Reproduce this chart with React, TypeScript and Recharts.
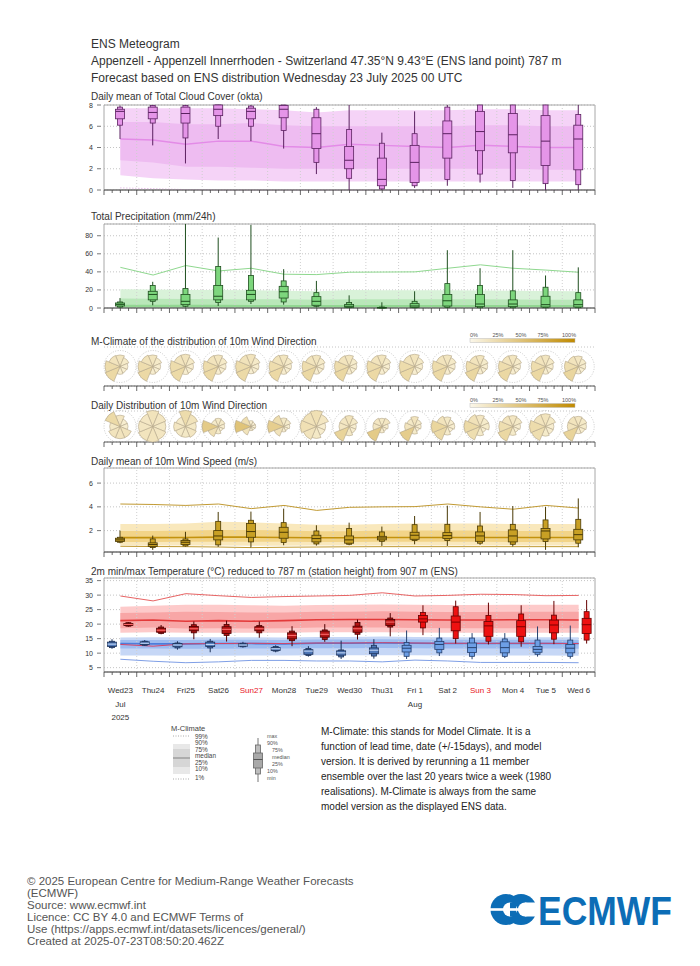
import React from 'react';
import {
  ComposedChart,
  Bar,
  Area,
  Line,
  XAxis,
  YAxis,
  CartesianGrid,
  ReferenceLine,
  ReferenceArea,
  Sector,
} from 'recharts';

const FONT = '"Liberation Sans", Arial, Helvetica, sans-serif';

// ---------------- categories / tick labels ----------------
const dayLabels = ['Wed23', 'Thu24', 'Fri25', 'Sat26', 'Sun27', 'Mon28', 'Tue29', 'Wed30', 'Thu31', 'Fri 1', 'Sat 2', 'Sun 3', 'Mon 4', 'Tue 5', 'Wed 6'];
const sundayLabels = ['Sun27', 'Sun 3'];
const monthLabels = ['Jul', '', '', '', '', '', '', '', '', 'Aug', '', '', '', '', ''];
const yearLabels = ['2025', '', '', '', '', '', '', '', '', '', '', '', '', '', ''];

const cloudTicks = [0, 2, 4, 6, 8];
const precipTicks = [0, 20, 40, 60, 80];
const windTicks = [2, 4, 6];
const tempTicks = [5, 10, 15, 20, 25, 30, 35];
const roseGridTicks = [0.33, 0.67];
const pctLabels = ['0%', '25%', '50%', '75%', '100%'];
const climLegendLabels = ['99%', '90%', '75%', 'median', '25%', '10%', '1%'];
const boxLegendLabels = ['max', '90%', '75%', 'median', '25%', '10%', 'min'];

// ---------------- ensemble stats per day: [min, p10, p25, median, p75, p90, max] ----------------
const cloudBoxes = [
  [4.8, 6.1, 6.7, 7.4, 7.6, 7.8, 7.95],
  [4.2, 6.3, 6.7, 7.3, 7.8, 7.95, 8],
  [2.5, 4.9, 6.3, 7.2, 7.8, 7.95, 8],
  [4.8, 6.0, 7.0, 7.6, 8, 8, 8],
  [4.6, 6.0, 6.7, 7.4, 7.7, 7.9, 8],
  [3.9, 5.6, 6.8, 7.6, 7.95, 8, 8],
  [1.5, 2.6, 3.9, 5.3, 6.8, 7.6, 7.8],
  [0, 1.1, 2.0, 2.8, 4.1, 5.7, 8],
  [0, 0.1, 0.4, 1.0, 3.0, 4.4, 5.4],
  [0.2, 0.4, 0.7, 2.6, 4.2, 5.3, 7.4],
  [0.4, 1.0, 3.0, 5.3, 6.5, 7.8, 8],
  [0.7, 1.5, 3.7, 5.5, 7.4, 8, 8],
  [0.2, 0.9, 3.5, 5.2, 7.2, 8, 8],
  [0, 0.6, 2.3, 4.6, 7.0, 8, 8],
  [0, 0.5, 1.9, 4.8, 6.1, 7.1, 8],
];

const precipBoxes = [
  [0.4, 1, 2.2, 4, 5.6, 6.7, 11],
  [3, 7.4, 9, 15, 18.5, 25, 29],
  [0.7, 1.9, 3.7, 7.4, 15, 21.5, 93],
  [2.2, 6, 9, 13, 25, 46, 78],
  [4.4, 7.4, 9, 15, 19.6, 36, 92],
  [3.7, 6.7, 11, 18, 24, 30, 43],
  [0.7, 1.9, 3, 7.4, 12.6, 17, 30],
  [0, 0.4, 0.7, 1.9, 4, 6, 14],
  [0, 0, 0.1, 0.3, 0.6, 1.1, 6.3],
  [0, 0.3, 0.7, 2.2, 4.8, 7.4, 18.5],
  [0, 0.7, 2.2, 8, 15, 27, 64],
  [0, 0.3, 1.5, 4.4, 15, 25, 44],
  [0, 0.3, 1.5, 4.4, 9, 19, 64],
  [0, 0.3, 1.1, 3.7, 13, 23, 36],
  [0, 0.3, 1.1, 3.7, 9, 17, 45],
];

const windBoxes = [
  [0.94, 1.02, 1.08, 1.22, 1.36, 1.44, 2.0],
  [0.38, 0.57, 0.66, 0.83, 0.97, 1.3, 1.58],
  [0.66, 0.71, 0.83, 1.02, 1.16, 1.3, 1.9],
  [0.63, 0.8, 1.22, 1.55, 2.0, 2.78, 3.57],
  [0.57, 1.05, 1.44, 1.92, 2.6, 2.87, 3.6],
  [0.77, 1.0, 1.36, 1.86, 2.28, 2.67, 3.85],
  [0.74, 0.88, 1.05, 1.33, 1.61, 1.97, 2.45],
  [0.77, 0.85, 0.94, 1.22, 1.55, 2.17, 2.67],
  [0.71, 1.1, 1.22, 1.38, 1.52, 1.89, 2.34],
  [0.85, 1.16, 1.27, 1.61, 1.86, 2.5, 3.23],
  [0.71, 1.16, 1.33, 1.58, 1.83, 2.53, 4.1],
  [0.8, 0.94, 1.1, 1.55, 1.89, 2.39, 3.57],
  [0.66, 0.85, 1.05, 1.55, 2.06, 2.53, 4.07],
  [0.38, 1.08, 1.3, 1.97, 2.17, 2.9, 3.99],
  [0.6, 0.94, 1.22, 1.66, 2.11, 2.95, 4.71],
];

const tminBoxes = [
  [11.5, 11.9, 12.3, 13.1, 13.8, 14.1, 14.8],
  [12.5, 12.7, 13.0, 13.4, 13.9, 14.1, 14.5],
  [11.2, 11.8, 12.2, 12.8, 13.3, 13.5, 14.1],
  [10.3, 11.8, 12.3, 13.0, 13.8, 14.1, 14.9],
  [11.9, 12.2, 12.4, 12.8, 13.2, 13.4, 13.9],
  [10.3, 10.7, 10.9, 11.5, 11.9, 12.3, 12.7],
  [8.8, 9.2, 9.6, 10.7, 11.2, 11.6, 12.4],
  [8.0, 8.7, 9.3, 10.1, 10.8, 11.1, 14.3],
  [8.1, 9.0, 9.8, 11.0, 11.8, 12.7, 14.8],
  [8.0, 8.9, 10.4, 11.7, 12.7, 13.7, 17.8],
  [9.0, 10.1, 11.3, 13.0, 14.0, 15.2, 18.7],
  [7.9, 8.9, 10.2, 11.9, 13.5, 15.2, 16.9],
  [8.3, 8.9, 10.1, 11.9, 13.9, 14.9, 16.9],
  [8.8, 9.6, 10.3, 11.3, 12.3, 14.5, 19.2],
  [8.1, 8.9, 10.1, 11.7, 13.0, 14.5, 19.5],
];

const tmaxBoxes = [
  [19.1, 19.3, 19.5, 19.9, 20.2, 20.5, 20.7],
  [16.5, 16.8, 17.2, 17.9, 18.6, 19.0, 19.7],
  [14.8, 17.0, 17.7, 18.4, 19.2, 19.8, 20.9],
  [14.0, 16.1, 16.8, 18.2, 19.1, 19.9, 21.2],
  [15.3, 17.0, 17.7, 18.4, 19.1, 19.5, 20.9],
  [12.4, 14.3, 14.9, 16.1, 17.0, 17.6, 19.3],
  [13.9, 14.7, 15.5, 16.5, 17.6, 18.0, 20.0],
  [14.7, 16.5, 17.2, 18.4, 19.3, 20.6, 21.6],
  [15.8, 19.0, 19.5, 20.7, 21.6, 22.1, 23.8],
  [16.2, 18.7, 20.7, 21.8, 23.0, 24.0, 26.5],
  [13.3, 15.0, 17.7, 20.7, 22.8, 26.0, 28.1],
  [13.0, 14.1, 15.8, 19.4, 20.9, 23.0, 27.4],
  [12.2, 13.9, 15.8, 19.1, 21.2, 23.5, 26.5],
  [13.1, 14.8, 17.0, 19.7, 21.4, 23.1, 28.0],
  [13.3, 14.5, 16.8, 19.8, 22.0, 24.3, 28.3],
];

// ---------------- M-Climate per day: [p1, p10, p25, median, p75, p90, p99] ----------------
const cloudClim = [
  [0.2, 1.4, 2.8, 4.8, 6.4, 7.7, 8],
  [0.12, 1.1, 2.6, 4.7, 6.4, 7.7, 8],
  [0.04, 1.0, 2.2, 4.3, 6.2, 7.7, 8],
  [0, 0.9, 2.2, 4.6, 6.2, 7.7, 8],
  [0, 0.9, 2.1, 4.6, 6.3, 7.6, 8],
  [0, 0.8, 2.0, 4.1, 6.1, 7.5, 8],
  [0, 0.8, 2.0, 4.0, 6.0, 7.3, 8],
  [0, 0.8, 2.0, 4.3, 6.0, 7.5, 8],
  [0, 0.8, 2.0, 4.2, 6.0, 7.5, 8],
  [0, 0.8, 2.0, 4.1, 6.0, 7.5, 8],
  [0, 0.8, 2.0, 4.0, 6.0, 7.5, 8],
  [0, 0.8, 2.0, 4.2, 6.1, 7.6, 8],
  [0, 0.8, 2.0, 4.1, 6.1, 7.6, 8],
  [0, 0.8, 1.9, 4.0, 6.0, 7.5, 8],
  [0, 0.8, 1.9, 4.0, 6.0, 7.5, 8],
];

const precipClim = [
  [0, 0, 0, 3.7, 10.4, 20.7, 45],
  [0, 0, 0, 3.6, 10.2, 20.4, 36.5],
  [0, 0, 0, 3.5, 10.0, 20.0, 47],
  [0, 0, 0, 3.5, 9.8, 19.8, 41],
  [0, 0, 0, 3.4, 9.8, 19.6, 44],
  [0, 0, 0, 3.3, 9.6, 19.2, 37.4],
  [0, 0, 0, 3.2, 9.2, 18.5, 37],
  [0, 0, 0, 3.4, 9.8, 19.8, 39.6],
  [0, 0, 0, 3.4, 9.6, 19.6, 39.8],
  [0, 0, 0, 3.4, 9.6, 19.6, 40],
  [0, 0, 0, 3.4, 9.6, 19.6, 44],
  [0, 0, 0, 3.4, 9.6, 19.4, 47.8],
  [0, 0, 0, 3.3, 9.4, 19.2, 44],
  [0, 0, 0, 3.2, 9.2, 18.8, 42],
  [0, 0, 0, 3.2, 9.0, 18.5, 39.6],
];

const windClim = [
  [0.68, 0.75, 1.05, 1.41, 1.97, 2.56, 4.24],
  [0.66, 0.75, 1.05, 1.41, 1.97, 2.56, 4.2],
  [0.65, 0.75, 1.06, 1.42, 2.0, 2.6, 4.12],
  [0.62, 0.74, 1.07, 1.45, 2.05, 2.75, 4.24],
  [0.57, 0.72, 1.07, 1.45, 2.05, 2.7, 3.85],
  [0.6, 0.73, 1.06, 1.42, 2.0, 2.6, 4.12],
  [0.62, 0.74, 1.05, 1.4, 1.95, 2.5, 3.7],
  [0.64, 0.75, 1.05, 1.4, 1.95, 2.5, 3.96],
  [0.65, 0.75, 1.06, 1.42, 2.0, 2.55, 4.0],
  [0.65, 0.75, 1.06, 1.42, 2.0, 2.6, 4.02],
  [0.65, 0.75, 1.06, 1.42, 2.0, 2.6, 4.24],
  [0.65, 0.75, 1.06, 1.42, 2.0, 2.6, 4.0],
  [0.65, 0.75, 1.05, 1.42, 1.97, 2.55, 3.8],
  [0.65, 0.75, 1.05, 1.42, 1.97, 2.55, 4.12],
  [0.65, 0.75, 1.05, 1.42, 1.97, 2.55, 3.9],
];

const tmaxClim = [
  [13.0, 17.0, 18.6, 21.2, 23.8, 26.0, 29.7],
  [12.4, 17.2, 18.8, 21.4, 24.0, 26.3, 28.0],
  [13.2, 17.0, 18.5, 21.0, 24.3, 26.7, 30.5],
  [13.3, 17.0, 18.6, 21.2, 24.2, 26.7, 29.8],
  [13.4, 17.0, 18.5, 21.0, 24.0, 26.5, 29.2],
  [13.3, 17.0, 18.6, 21.2, 24.0, 26.3, 29.5],
  [13.5, 17.2, 18.8, 21.5, 24.3, 26.6, 29.7],
  [13.5, 17.2, 18.8, 21.6, 24.3, 26.7, 29.9],
  [13.6, 17.2, 18.8, 21.6, 24.4, 26.8, 30.8],
  [13.5, 17.1, 18.7, 21.5, 24.3, 26.7, 29.7],
  [13.4, 17.0, 18.6, 21.4, 24.2, 26.6, 29.9],
  [13.4, 17.0, 18.6, 21.4, 24.2, 26.6, 30.3],
  [13.4, 17.0, 18.6, 21.5, 24.3, 26.7, 30.2],
  [13.4, 17.0, 18.6, 21.5, 24.3, 26.7, 29.8],
  [13.3, 17.0, 18.6, 21.4, 24.3, 26.7, 29.9],
];

const tminClim = [
  [7.9, 9.2, 11.6, 13.3, 14.5, 15.4, 17.5],
  [7.2, 9.2, 11.6, 13.2, 14.5, 15.5, 17.5],
  [6.7, 9.1, 11.5, 13.2, 14.5, 15.5, 17.5],
  [7.0, 9.1, 11.5, 13.3, 14.6, 15.5, 17.6],
  [7.5, 9.2, 11.6, 13.3, 14.6, 15.5, 17.6],
  [7.5, 9.2, 11.6, 13.2, 14.5, 15.4, 17.5],
  [7.3, 9.3, 11.7, 13.4, 14.7, 15.6, 17.7],
  [7.3, 9.3, 11.7, 13.4, 14.7, 15.6, 17.7],
  [7.0, 9.3, 11.8, 13.5, 14.8, 15.7, 17.8],
  [7.6, 9.3, 11.7, 13.4, 14.7, 15.6, 17.7],
  [7.3, 9.2, 11.6, 13.3, 14.6, 15.5, 17.6],
  [6.8, 9.2, 11.6, 13.3, 14.6, 15.5, 17.6],
  [6.8, 9.2, 11.6, 13.3, 14.6, 15.5, 17.6],
  [6.8, 9.2, 11.6, 13.3, 14.6, 15.5, 17.6],
  [6.7, 9.1, 11.5, 13.3, 14.5, 15.5, 17.5],
];

// ---------------- wind direction frequencies (%) per day: [N, NE, E, SE, S, SW, W, NW] ----------------
const mclimRose = [
  [13, 9, 6, 5, 6, 25, 22, 14],
  [13, 9, 6, 5, 6, 25, 21, 15],
  [14, 9, 6, 5, 6, 24, 22, 14],
  [13, 9, 6, 5, 6, 25, 22, 14],
  [14, 9, 6, 5, 5, 24, 22, 15],
  [13, 9, 6, 5, 6, 25, 21, 15],
  [13, 9, 6, 5, 6, 26, 21, 14],
  [13, 8, 6, 5, 6, 26, 22, 14],
  [13, 9, 6, 5, 6, 25, 22, 14],
  [14, 9, 6, 5, 6, 24, 22, 14],
  [13, 9, 6, 5, 6, 25, 22, 14],
  [13, 8, 6, 5, 6, 27, 21, 14],
  [13, 9, 6, 5, 6, 26, 21, 14],
  [13, 9, 6, 5, 6, 26, 21, 14],
  [12, 8, 6, 5, 6, 28, 21, 14],
];

const dailyRose = [
  [12, 6, 6, 14, 14, 14, 10, 24],
  [15, 12, 10, 12, 14, 14, 12, 11],
  [22, 15, 10, 12, 10, 10, 12, 9],
  [10, 8, 6, 4, 8, 18, 38, 8],
  [6, 4, 4, 3, 3, 15, 45, 20],
  [10, 8, 5, 3, 4, 15, 35, 20],
  [18, 12, 6, 6, 10, 14, 18, 16],
  [14, 10, 6, 6, 10, 30, 12, 12],
  [10, 12, 6, 4, 6, 38, 12, 12],
  [14, 8, 6, 4, 8, 36, 14, 10],
  [10, 6, 6, 4, 8, 24, 28, 14],
  [12, 8, 8, 4, 8, 20, 24, 16],
  [12, 10, 6, 4, 8, 26, 20, 14],
  [14, 10, 6, 6, 8, 20, 22, 14],
  [12, 10, 8, 6, 6, 30, 14, 14],
];

const footerLines = [
  '© 2025 European Centre for Medium-Range Weather Forecasts',
  '(ECMWF)',
  'Source: www.ecmwf.int',
  'Licence: CC BY 4.0 and ECMWF Terms of',
  'Use (https://apps.ecmwf.int/datasets/licences/general/)',
  'Created at 2025-07-23T08:50:20.462Z',
];

const noteLines = [
  'M-Climate: this stands for Model Climate. It is a',
  'function of lead time, date (+/-15days), and model',
  'version. It is derived by rerunning a 11 member',
  'ensemble over the last 20 years twice a week (1980',
  'realisations). M-Climate is always from the same',
  'model version as the displayed ENS data.',
];

// ---------------- layout constants ----------------
const PAGE_W = 700;
const PLOT_LEFT = 104;
const PLOT_RIGHT = 595;
const YAXIS_W = 20;
const N_DAYS = dayLabels.length;
const quarterTicks = Array.from({ length: N_DAYS * 4 + 1 }, (_, i) => i / 4);
const dayBounds = Array.from({ length: N_DAYS - 1 }, (_, i) => i + 1);
const ROSE_R = 16;
const DARK_DAYS = 9;

// ---------------- chart data tables ----------------
const dailyTable = (boxes: number[][] | null, clim: number[][] | null, extra?: (i: number) => any) =>
  dayLabels.map((_, i) => {
    const row: any = { x: i + 0.5 };
    if (boxes) {
      row.range = [boxes[i][0], boxes[i][6]];
      row.stats = boxes[i];
    }
    if (clim) {
      const c = clim[i];
      row.p1 = c[0];
      row.b1090 = [c[1], c[5]];
      row.b2575 = [c[2], c[4]];
      row.p50 = c[3];
      row.b050 = [0, c[3]];
      row.p99 = c[6];
    }
    if (extra) Object.assign(row, extra(i));
    return row;
  });

const cloudData = dailyTable(cloudBoxes, cloudClim);
const precipData = dailyTable(precipBoxes, precipClim);
const windData = dailyTable(windBoxes, windClim);
const mclimRoseData = dailyTable(null, null, (i) => ({ range: [0, 1], freqs: mclimRose[i] }));
const dailyRoseData = dailyTable(null, null, (i) => ({ range: [0, 1], freqs: dailyRose[i] }));
const tempClimData = dayLabels.map((_, i) => ({
  x: i + 0.5,
  xb1090: [tmaxClim[i][1], tmaxClim[i][5]],
  xb2575: [tmaxClim[i][2], tmaxClim[i][4]],
  xp50: tmaxClim[i][3],
  xp1: tmaxClim[i][0],
  xp99: tmaxClim[i][6],
  nb1090: [tminClim[i][1], tminClim[i][5]],
  nb2575: [tminClim[i][2], tminClim[i][4]],
  np50: tminClim[i][3],
  np1: tminClim[i][0],
}));
const tempBoxData = dayLabels.flatMap((_, i) => [
  { x: i + 0.25, range: [tminBoxes[i][0], tminBoxes[i][6]], stats: tminBoxes[i], kind: 'min', day: i },
  { x: i + 0.75, range: [tmaxBoxes[i][0], tmaxBoxes[i][6]], stats: tmaxBoxes[i], kind: 'max', day: i },
]);

// ---------------- shapes & ticks ----------------
type BoxStyle = { fill: string; stroke: string; median: string };

const makeBoxShape = (styleOf: (p: any) => BoxStyle) => (props: any) => {
  const { x, y, width, height, payload } = props;
  if (!payload || !payload.stats || x == null || y == null) return <g />;
  const s: number[] = payload.stats;
  const lo = s[0];
  const hi = s[6];
  const top = Math.min(y, y + height);
  const bot = Math.max(y, y + height);
  const py = (v: number) => (hi === lo ? bot : bot - ((v - lo) / (hi - lo)) * (bot - top));
  const cx = x + width / 2;
  const st = styleOf(payload);
  const wO = 5;
  const wI = 9;
  return (
    <g>
      <line x1={cx} x2={cx} y1={py(hi)} y2={py(lo)} stroke={st.stroke} strokeWidth={1} />
      <rect x={cx - wO / 2} y={py(s[5])} width={wO} height={Math.max(0.6, py(s[1]) - py(s[5]))} fill={st.fill} stroke={st.stroke} strokeWidth={0.8} />
      <rect x={cx - wI / 2} y={py(s[4])} width={wI} height={Math.max(0.6, py(s[2]) - py(s[4]))} fill={st.fill} stroke={st.stroke} strokeWidth={0.8} />
      <line x1={cx - wI / 2} x2={cx + wI / 2} y1={py(s[3])} y2={py(s[3])} stroke={st.median} strokeWidth={1} />
    </g>
  );
};

const cloudShape = makeBoxShape(() => ({ fill: '#e595e8', stroke: '#5b2160', median: '#5b2160' }));
const precipShape = makeBoxShape(() => ({ fill: '#7dd67d', stroke: '#1f4f1f', median: '#1f4f1f' }));
const windShape = makeBoxShape(() => ({ fill: '#c8a024', stroke: '#4a3a05', median: '#4a3a05' }));
const tempShape = makeBoxShape((p) => {
  const early = p.day < DARK_DAYS;
  if (p.kind === 'max') {
    return early
      ? { fill: '#b31414', stroke: '#4d0000', median: '#ff7070' }
      : { fill: '#ee1111', stroke: '#660000', median: '#7a0000' };
  }
  return early
    ? { fill: '#4f78b8', stroke: '#1c3158', median: '#c8daf6' }
    : { fill: '#6d9fe6', stroke: '#26406e', median: '#26406e' };
});

const lerp = (a: number, b: number, t: number) => Math.round(a + (b - a) * t);
const roseColor = (pct: number) => {
  const t = Math.max(0, Math.min(1, pct / 100));
  return `rgb(${lerp(250, 192, t)},${lerp(243, 138, t)},${lerp(220, 0, t)})`;
};

const roseShape = (props: any) => {
  const { x, y, width, height, payload } = props;
  if (!payload || !payload.freqs || x == null || y == null) return <g />;
  const cx = x + width / 2;
  const cy = Math.min(y, y + height) + Math.abs(height) / 2;
  const f: number[] = payload.freqs;
  const mx = Math.max(...f);
  return (
    <g>
      <circle cx={cx} cy={cy} r={ROSE_R} fill="none" stroke="#aaa" strokeWidth={0.6} strokeDasharray="1 1.5" />
      {f.map((v, k) => {
        const angle = 90 - k * 45;
        return (
          <Sector
            key={k}
            cx={cx}
            cy={cy}
            innerRadius={0}
            outerRadius={ROSE_R * Math.sqrt(v / mx)}
            startAngle={angle - 22.5}
            endAngle={angle + 22.5}
            fill={roseColor(v)}
            stroke="#b3a68a"
            strokeWidth={0.6}
          />
        );
      })}
    </g>
  );
};

const XTick = (props: any) => {
  const { x, y, payload, showLabels } = props;
  const v: number = payload.value;
  const major = Math.abs(v - Math.round(v)) < 1e-6;
  const dayIdx = Math.floor(v);
  const isNoon = Math.abs(v - dayIdx - 0.5) < 1e-6;
  const label = dayLabels[dayIdx];
  return (
    <g>
      <line x1={x} x2={x} y1={y} y2={y + (major ? 5 : 3)} stroke="#444" strokeWidth={0.8} />
      {showLabels && isNoon && (
        <g fontSize={8}>
          <text x={x} y={y + 21} textAnchor="middle" fill={sundayLabels.includes(label) ? '#e8141e' : '#333'}>
            {label}
          </text>
          {monthLabels[dayIdx] ? (
            <text x={x} y={y + 35} textAnchor="middle" fill="#333">
              {monthLabels[dayIdx]}
            </text>
          ) : null}
          {yearLabels[dayIdx] ? (
            <text x={x} y={y + 48} textAnchor="middle" fill="#333">
              {yearLabels[dayIdx]}
            </text>
          ) : null}
        </g>
      )}
    </g>
  );
};

const YTick = (props: any) => {
  const { x, y, payload } = props;
  return (
    <g>
      <line x1={x - 7} x2={x - 3} y1={y} y2={y} stroke="#555" strokeWidth={0.8} />
      <text x={x - 11} y={y + 2.5} textAnchor="end" fontSize={7} fill="#333">
        {payload.value}
      </text>
    </g>
  );
};

// ---------------- panel ----------------
type PanelProps = {
  top: number;
  bottom: number;
  domain: [number, number];
  yTicks: number[];
  showYLabels: boolean;
  baseData: any[];
  overData: any[];
  xh: number;
  showLabels?: boolean;
  under: React.ReactNode[];
  over: React.ReactNode[];
};

function Panel({ top, bottom, domain, yTicks, showYLabels, baseData, overData, xh, showLabels, under, over }: PanelProps) {
  const h = bottom - top;
  return (
    <>
      <div style={{ position: 'absolute', left: 0, top: top - 10 }}>
        <ComposedChart
          width={PAGE_W}
          height={h + 10 + xh}
          data={baseData}
          margin={{ top: 10, right: PAGE_W - PLOT_RIGHT, bottom: 0, left: PLOT_LEFT - YAXIS_W }}
        >
          <XAxis
            type="number"
            dataKey="x"
            domain={[0, N_DAYS]}
            ticks={quarterTicks}
            interval={0}
            height={xh}
            tickSize={0}
            tickMargin={0}
            tickLine={false}
            axisLine={{ stroke: '#555', strokeWidth: 1 }}
            tick={(p: any) => <XTick {...p} showLabels={!!showLabels} />}
          />
          <YAxis
            type="number"
            domain={domain}
            ticks={yTicks}
            interval={0}
            width={YAXIS_W}
            tickSize={0}
            tickMargin={0}
            tickLine={false}
            axisLine={false}
            tick={showYLabels ? (p: any) => <YTick {...p} /> : false}
          />
          <CartesianGrid vertical={false} strokeDasharray="1 2" stroke="#c4c4c4" />
          {dayBounds.map((d) => (
            <ReferenceLine key={'v' + d} x={d} stroke="#cfcfcf" strokeDasharray="1 2" />
          ))}
          {under}
          <ReferenceArea x1={0} x2={N_DAYS} y1={domain[0]} y2={domain[1]} fill="none" fillOpacity={0} stroke="#a8a8a8" strokeWidth={1} />
        </ComposedChart>
      </div>
      <div style={{ position: 'absolute', left: 0, top: top - 10 }}>
        <ComposedChart
          width={PAGE_W}
          height={h + 20}
          data={overData}
          margin={{ top: 10, right: PAGE_W - PLOT_RIGHT, bottom: 10, left: PLOT_LEFT }}
        >
          <XAxis type="number" dataKey="x" domain={[0, N_DAYS]} hide />
          <YAxis type="number" domain={domain} hide />
          {over}
        </ComposedChart>
      </div>
    </>
  );
}

const area = (key: string, dataKey: string, fill: string) => (
  <Area
    key={key}
    type="linear"
    dataKey={dataKey}
    stroke="none"
    fill={fill}
    fillOpacity={1}
    dot={false}
    activeDot={false}
    isAnimationActive={false}
    connectNulls
  />
);

const line = (key: string, dataKey: string, stroke: string, width = 1, dash?: string) => (
  <Line
    key={key}
    type="linear"
    dataKey={dataKey}
    stroke={stroke}
    strokeWidth={width}
    strokeDasharray={dash}
    dot={false}
    activeDot={false}
    isAnimationActive={false}
    connectNulls
  />
);

const boxBar = (shape: any) => [
  <Bar key="box" dataKey="range" barSize={2} shape={shape} isAnimationActive={false} />,
];

// ---------------- static overlay (titles, legends, footer) ----------------
function Overlay() {
  const colorbar = (yBar: number, yLab: number, id: string) => (
    <g>
      <rect x={470} y={yBar} width={105} height={4} fill={`url(#${id})`} stroke="#bbb" strokeWidth={0.5} />
      {pctLabels.map((t, i) => (
        <text key={t} x={[474, 498, 521, 543, 569][i]} y={yLab} fontSize={5.5} fill="#555" textAnchor="middle">
          {t}
        </text>
      ))}
    </g>
  );
  const climLabelY = [738.5, 745, 751.5, 758, 764.5, 771, 779.5];
  const boxLabelY = [738, 745, 752, 759, 766, 773, 780];
  const boxLabelX = [267, 267, 272, 272, 272, 267, 267];
  return (
    <svg width={PAGE_W} height={966} style={{ position: 'absolute', left: 0, top: 0 }} fontFamily={FONT}>
      <defs>
        <linearGradient id="cb1" x1="0" x2="1" y1="0" y2="0">
          <stop offset="0" stopColor="#fbf7ea" />
          <stop offset="1" stopColor="#c08a00" />
        </linearGradient>
        <linearGradient id="cb2" x1="0" x2="1" y1="0" y2="0">
          <stop offset="0" stopColor="#fbf7ea" />
          <stop offset="1" stopColor="#c08a00" />
        </linearGradient>
      </defs>
      <g fill="#333" fontSize={12}>
        <text x={91} y={48}>ENS Meteogram</text>
        <text x={91} y={65}>Appenzell - Appenzell Innerrhoden - Switzerland 47.35°N 9.43°E (ENS land point) 787 m</text>
        <text x={91} y={82}>Forecast based on ENS distribution Wednesday 23 July 2025 00 UTC</text>
      </g>
      <g fill="#333" fontSize={10}>
        <text x={91} y={100.3}>Daily mean of Total Cloud Cover (okta)</text>
        <text x={91} y={220}>Total Precipitation (mm/24h)</text>
        <text x={91} y={344.5}>M-Climate of the distribution of 10m Wind Direction</text>
        <text x={91} y={408.5}>Daily Distribution of 10m Wind Direction</text>
        <text x={91} y={464.5}>Daily mean of 10m Wind Speed (m/s)</text>
        <text x={91} y={574.5}>2m min/max Temperature (°C) reduced to 787 m (station height) from 907 m (ENS)</text>
      </g>
      {colorbar(338.5, 336.5, 'cb1')}
      {colorbar(403.5, 401.5, 'cb2')}

      {/* M-Climate legend */}
      <g fill="#444">
        <text x={171} y={731} fontSize={7.5}>M-Climate</text>
        <line x1={173} x2={190} y1={736} y2={736} stroke="#aaa" strokeDasharray="1 1.5" />
        <rect x={173} y={744} width={17} height={30} fill="#e8e8e8" />
        <rect x={173} y={749} width={17} height={18} fill="#d6d6d6" />
        <line x1={173} x2={190} y1={758} y2={758} stroke="#9a9a9a" strokeWidth={1.4} />
        <line x1={173} x2={190} y1={779} y2={779} stroke="#aaa" strokeDasharray="1 1.5" />
        <g fontSize={6.4}>
          {climLegendLabels.map((t, i) => (
            <text key={t} x={195} y={climLabelY[i]}>
              {t}
            </text>
          ))}
        </g>
      </g>
      {/* box legend */}
      <g fontSize={5.4} fill="#555">
        <line x1={258} x2={258} y1={738} y2={782} stroke="#777" strokeWidth={1} />
        <rect x={255.5} y={745} width={5} height={29} fill="#bdbdbd" stroke="#666" strokeWidth={0.8} />
        <rect x={253.5} y={753} width={9} height={15} fill="#a9a9a9" stroke="#666" strokeWidth={0.8} />
        <line x1={253.5} x2={262.5} y1={759.5} y2={759.5} stroke="#555" />
        {boxLegendLabels.map((t, i) => (
          <text key={t + i} x={boxLabelX[i]} y={boxLabelY[i]}>
            {t}
          </text>
        ))}
      </g>
      <g fontSize={10} fill="#222">
        {noteLines.map((t, i) => (
          <text key={i} x={321} y={735 + i * 15}>
            {t}
          </text>
        ))}
      </g>
      <g fontSize={11.5} fill="#555">
        {footerLines.map((t, i) => (
          <text key={i} x={27} y={884.5 + i * 12}>
            {t}
          </text>
        ))}
      </g>
      {/* ECMWF logo */}
      <g>
        <circle cx={506} cy={909.5} r={15.5} fill="#0c6db6" />
        <circle cx={521} cy={909.5} r={15.5} fill="#0c6db6" />
        <circle cx={510} cy={909.5} r={7} fill="#fff" />
        <circle cx={525} cy={909.5} r={7} fill="#fff" />
        <rect x={510} y={902.5} width={6} height={14} fill="#0c6db6" />
        <rect x={525} y={902.5} width={14} height={14} fill="#fff" />
        <rect x={488} y={908.2} width={52} height={2.6} fill="#fff" />
        <text x={538} y={925} fontSize={40} fontWeight="bold" fill="#0c6db6" textLength={134} lengthAdjust="spacingAndGlyphs">
          ECMWF
        </text>
      </g>
    </svg>
  );
}

export default function App() {
  return (
    <div
      style={{
        position: 'absolute',
        left: 0,
        top: 0,
        width: PAGE_W,
        height: 966,
        background: '#fff',
        fontFamily: FONT,
        overflow: 'hidden',
      }}
    >
      <Overlay />
      {/* Cloud cover */}
      <Panel
        top={105}
        bottom={190}
        domain={[0, 8]}
        yTicks={cloudTicks}
        showYLabels
        baseData={cloudData}
        overData={cloudData}
        xh={8}
        under={[
          area('a1', 'b1090', '#f5d3f7'),
          area('a2', 'b2575', '#eebcf1'),
          line('l1', 'p50', '#e38be7', 1.5),
          line('l2', 'p1', '#d9a0dc', 1, '1 2'),
        ]}
        over={boxBar(cloudShape)}
      />
      {/* Precipitation */}
      <Panel
        top={224}
        bottom={308}
        domain={[0, 93]}
        yTicks={precipTicks}
        showYLabels
        baseData={precipData}
        overData={precipData}
        xh={8}
        under={[
          area('a1', 'b1090', '#d9f2d9'),
          area('a2', 'b2575', '#b9e7b9'),
          area('a3', 'b050', '#92d792'),
          line('l1', 'p99', '#8fd88f', 1),
        ]}
        over={boxBar(precipShape)}
      />
      {/* M-Climate wind direction */}
      <Panel
        top={347}
        bottom={386}
        domain={[0, 1]}
        yTicks={roseGridTicks}
        showYLabels={false}
        baseData={mclimRoseData}
        overData={mclimRoseData}
        xh={8}
        under={[]}
        over={boxBar(roseShape)}
      />
      {/* Daily wind direction */}
      <Panel
        top={411}
        bottom={442}
        domain={[0, 1]}
        yTicks={roseGridTicks}
        showYLabels={false}
        baseData={dailyRoseData}
        overData={dailyRoseData}
        xh={8}
        under={[]}
        over={boxBar(roseShape)}
      />
      {/* Wind speed */}
      <Panel
        top={468}
        bottom={552}
        domain={[0.2, 7.27]}
        yTicks={windTicks}
        showYLabels
        baseData={windData}
        overData={windData}
        xh={8}
        under={[
          area('a1', 'b1090', '#f9e8bc'),
          area('a2', 'b2575', '#f2d488'),
          line('l1', 'p50', '#c3920e', 1.6),
          line('l2', 'p99', '#c19a33', 1),
          line('l3', 'p1', '#c19a33', 1),
        ]}
        over={boxBar(windShape)}
      />
      {/* Temperature */}
      <Panel
        top={578}
        bottom={672}
        domain={[3.5, 35.9]}
        yTicks={tempTicks}
        showYLabels
        baseData={tempClimData}
        overData={tempBoxData}
        xh={52}
        showLabels
        under={[
          area('a1', 'xb1090', '#fdcaca'),
          area('a2', 'xb2575', '#f8a6a6'),
          area('a3', 'nb1090', '#c6d7f6'),
          area('a4', 'nb2575', '#9dbcf0'),
          line('l1', 'xp50', '#e33a3a', 1.6),
          line('l2', 'xp99', '#e86464', 1),
          line('l3', 'np50', '#4d7ddb', 1.6),
          line('l4', 'xp1', '#d2456a', 1),
          line('l5', 'np1', '#7f9fe6', 1),
        ]}
        over={boxBar(tempShape)}
      />
    </div>
  );
}
